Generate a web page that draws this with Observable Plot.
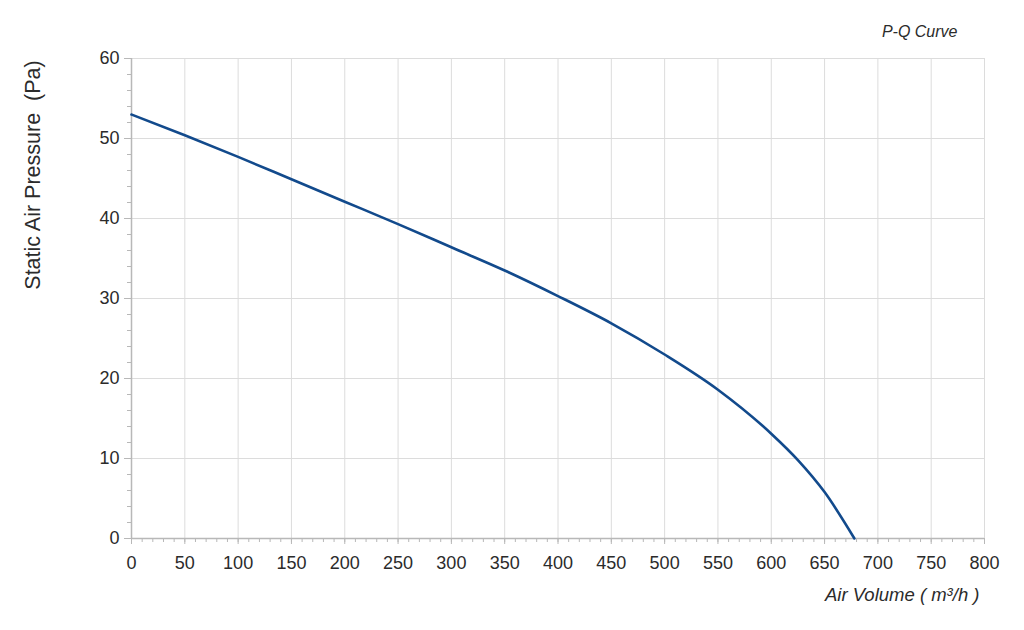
<!DOCTYPE html>
<html>
<head>
<meta charset="utf-8">
<script src="https://cdn.jsdelivr.net/npm/d3@7"></script>
<script src="https://cdn.jsdelivr.net/npm/@observablehq/plot@0.6"></script>
<style>
  html, body { margin: 0; padding: 0; background: #fff; }
  body { width: 1024px; height: 630px; overflow: hidden; font-family: "Liberation Sans", Arial, sans-serif; }
  #wrap { position: relative; width: 1024px; height: 630px; }
  #ylabel {
    position: absolute; left: 33px; top: 175px;
    transform: translate(-50%, -50%) rotate(-90deg);
    white-space: pre; font-size: 21.5px; color: #2b2b2b;
    font-family: "Liberation Sans", Arial, sans-serif;
  }
</style>
</head>
<body>
<div id="wrap">
  <div id="chart"></div>
  <div id="ylabel"></div>
</div>
<script>
const airVolume = [0, 50, 100, 150, 200, 250, 300, 350, 400, 450, 500, 550, 600, 625, 650, 678];
const pressure  = [53.0, 50.4, 47.7, 44.9, 42.1, 39.3, 36.4, 33.5, 30.3, 26.9, 23.0, 18.6, 13.1, 9.8, 5.8, 0];
const xTicks = [0, 50, 100, 150, 200, 250, 300, 350, 400, 450, 500, 550, 600, 650, 700, 750, 800];
const yTicks = [0, 10, 20, 30, 40, 50, 60];
const xMinor = d3.range(0, 801, 10);
const yMinor = d3.range(0, 61, 2);
const title = "P-Q Curve";
const xLabel = "Air Volume ( m³/h )";
const yLabel = "Static Air Pressure  (Pa)";

const data = airVolume.map((q, i) => ({q, p: pressure[i]}));

const textColor = "#2b2b2b";
const gridColor = "#dcdcdc";
const axisColor = "#b8b8b8";

document.getElementById("ylabel").textContent = yLabel;

const chart = Plot.plot({
  width: 1024,
  height: 630,
  marginTop: 58,
  marginBottom: 92,
  marginLeft: 131,
  marginRight: 40,
  style: {fontFamily: "'Liberation Sans', Arial, sans-serif", fontSize: "18px", background: "#fff", color: textColor},
  x: {domain: [0, 800], label: null},
  y: {domain: [0, 60], label: null},
  marks: [
    Plot.gridX(xTicks, {stroke: gridColor, strokeOpacity: 1, strokeWidth: 1}),
    Plot.gridY(yTicks, {stroke: gridColor, strokeOpacity: 1, strokeWidth: 1}),
    Plot.axisX(xMinor, {tickSize: 4, stroke: axisColor, tickFormat: () => ""}),
    Plot.axisY(yMinor, {tickSize: 4, stroke: axisColor, tickFormat: () => ""}),
    Plot.axisX(xTicks, {tickSize: 6, tickPadding: 12, stroke: axisColor, fill: textColor, label: null}),
    Plot.axisY(yTicks, {tickSize: 7, tickPadding: 5, stroke: axisColor, fill: textColor, label: null}),
    Plot.ruleY([0], {stroke: axisColor, strokeWidth: 1.5}),
    Plot.ruleX([0], {stroke: axisColor, strokeWidth: 1.5}),
    Plot.line(data, {x: "q", y: "p", stroke: "#124a8c", strokeWidth: 2.6, curve: "monotone-x"}),
    Plot.text([title], {frameAnchor: "top-right", dx: -27, dy: -33, fontSize: 16, fontStyle: "italic", fill: textColor, textAnchor: "end"}),
    Plot.text([xLabel], {frameAnchor: "bottom-right", dx: -5, dy: 62, fontSize: 18.5, fontStyle: "italic", fill: textColor, textAnchor: "end"})
  ]
});
document.getElementById("chart").appendChild(chart);
</script>
</body>
</html>
